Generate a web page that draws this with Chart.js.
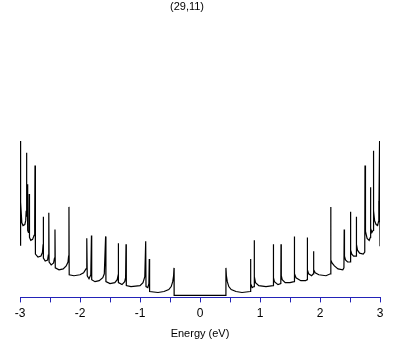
<!DOCTYPE html>
<html>
<head>
<meta charset="utf-8">
<script src="https://cdn.jsdelivr.net/npm/chart.js@4.4.1/dist/chart.umd.min.js"></script>
<style>
  html, body { margin: 0; padding: 0; background: #ffffff; }
  #wrap { position: relative; width: 409px; height: 345px; }
</style>
</head>
<body>
<div id="wrap"><canvas id="c" width="409" height="345"></canvas></div>
<script>
// Chart title
const chartTitle = "(29,11)";
const xAxisTitle = "Energy (eV)";
// Tick values of the energy axis
const xTickMin = -3;
const xTickMax = 3;
const xTickStep = 0.5;

// Density of states: energy (eV) and DOS (arbitrary units)
const energy = [
  -3.000, -2.995, -2.985, -2.970, -2.950, -2.920, -2.905, -2.897, -2.892, -2.889,
  -2.886, -2.879, -2.872, -2.860, -2.850, -2.846, -2.842, -2.820, -2.790, -2.765,
  -2.755, -2.750, -2.746, -2.740, -2.700, -2.650, -2.625, -2.615, -2.612, -2.608,
  -2.580, -2.540, -2.528, -2.520, -2.515, -2.480, -2.440, -2.425, -2.417, -2.412,
  -2.350, -2.280, -2.230, -2.200, -2.190, -2.184, -2.180, -2.100, -2.000, -1.940,
  -1.900, -1.890, -1.884, -1.879, -1.850, -1.820, -1.809, -1.805, -1.750, -1.680,
  -1.620, -1.595, -1.573, -1.568, -1.500, -1.420, -1.380, -1.366, -1.362, -1.357,
  -1.300, -1.255, -1.240, -1.233, -1.228, -1.150, -1.000, -0.950, -0.920, -0.905,
  -0.900, -0.870, -0.852, -0.845, -0.840, -0.700, -0.600, -0.520, -0.480, -0.455,
  -0.440, -0.433, -0.431,
  0.430, 0.432, 0.440, 0.455, 0.480, 0.520, 0.600, 0.700, 0.838, 0.842,
  0.847, 0.870, 0.900, 0.903, 0.908, 0.925, 0.980, 1.100, 1.218, 1.222,
  1.227, 1.240, 1.300, 1.347, 1.350, 1.355, 1.370, 1.420, 1.500, 1.568,
  1.572, 1.577, 1.600, 1.680, 1.760, 1.785, 1.788, 1.793, 1.810, 1.860,
  1.888, 1.892, 1.897, 1.920, 1.980, 2.100, 2.174, 2.178, 2.183, 2.200,
  2.240, 2.300, 2.380, 2.399, 2.403, 2.408, 2.425, 2.460, 2.504, 2.508,
  2.513, 2.530, 2.560, 2.601, 2.605, 2.610, 2.625, 2.660, 2.720, 2.746,
  2.750, 2.754, 2.762, 2.785, 2.820, 2.839, 2.842, 2.846, 2.865, 2.884,
  2.888, 2.892, 2.898, 2.910, 2.935, 2.960, 2.975, 2.978, 2.983, 2.993,
  3.000
];
const dos = [
  5.1, 15.7, 9.5, 7.4, 7.1, 7.2, 7.6, 8.6, 10.0, 14.5,
  8.0, 11.3, 6.6, 6.4, 6.8, 10.3, 5.9, 5.6, 5.7, 6.1,
  7.0, 13.2, 8.8, 4.2, 3.9, 4.0, 4.4, 5.2, 8.0, 3.8,
  3.5, 3.6, 4.1, 8.4, 3.4, 3.1, 3.3, 3.8, 6.7, 2.8,
  2.6, 2.7, 3.0, 3.4, 4.0, 9.0, 2.1, 2.0, 2.1, 2.3,
  2.7, 3.1, 5.8, 2.0, 1.7, 2.1, 6.1, 1.6, 1.4, 1.5,
  1.8, 2.2, 6.0, 1.4, 1.2, 1.3, 1.6, 2.0, 5.3, 1.3,
  1.1, 1.4, 1.8, 5.2, 1.0, 0.9, 1.0, 1.3, 1.9, 5.5,
  0.9, 0.8, 1.2, 3.7, 0.4, 0.3, 0.4, 0.6, 0.9, 1.4,
  2.0, 2.8, 0.0,
  0.0, 2.8, 2.0, 1.4, 0.9, 0.6, 0.4, 0.3, 0.4, 3.7,
  1.2, 0.8, 0.9, 5.6, 1.9, 1.3, 1.0, 0.9, 1.0, 5.2,
  1.8, 1.4, 1.1, 1.2, 5.2, 2.0, 1.6, 1.3, 1.3, 1.4,
  6.0, 2.2, 1.8, 1.5, 1.5, 1.6, 5.9, 2.6, 2.2, 2.0,
  2.2, 4.5, 2.6, 2.3, 2.1, 2.0, 2.2, 9.0, 3.6, 3.3,
  3.0, 2.7, 2.6, 2.8, 6.7, 4.0, 3.6, 3.4, 3.4, 8.5,
  4.6, 4.2, 4.0, 4.0, 8.0, 5.2, 4.6, 4.3, 4.2, 4.4,
  13.2, 8.5, 6.5, 5.8, 5.6, 5.9, 11.0, 6.8, 6.4, 6.6,
  14.7, 10.5, 8.6, 7.6, 7.2, 7.1, 7.5, 9.6, 7.8, 15.7,
  5.0
];

const points = energy.map((e, i) => ({ x: e, y: dos[i] }));
const axisBlue = '#2323b8';

const titlePlugin = {
  id: 'topTitle',
  afterDraw(chart) {
    const ctx = chart.ctx;
    ctx.save();
    ctx.font = '11px "Liberation Sans", Arial, sans-serif';
    ctx.fillStyle = '#000000';
    ctx.textAlign = 'center';
    ctx.textBaseline = 'middle';
    ctx.fillText(chartTitle, 187, 7);
    ctx.restore();
  }
};

new Chart(document.getElementById('c'), {
  type: 'line',
  data: {
    datasets: [{
      data: points,
      borderColor: '#000000',
      borderWidth: 1.2,
      pointRadius: 0,
      tension: 0,
      fill: false
    }]
  },
  options: {
    responsive: false,
    animation: false,
    layout: { padding: { left: 20, right: 29, top: 138, bottom: 0 } },
    plugins: {
      legend: { display: false },
      tooltip: { enabled: false },
      title: { display: false }
    },
    scales: {
      x: {
        type: 'linear',
        min: xTickMin,
        max: xTickMax,
        border: { display: true, color: axisBlue, width: 1 },
        grid: { drawOnChartArea: false, drawTicks: true, tickLength: 5, color: axisBlue, tickColor: axisBlue },
        ticks: {
          stepSize: xTickStep,
          padding: 4,
          color: '#000000',
          font: { family: '"Liberation Sans", Arial, sans-serif', size: 12 },
          maxRotation: 0,
          autoSkip: false,
          callback: (v) => Math.abs(v - Math.round(v)) < 1e-6 ? String(Math.round(v)) : ''
        },
        title: {
          display: true,
          text: xAxisTitle,
          color: '#000000',
          font: { family: '"Liberation Sans", Arial, sans-serif', size: 11 },
          padding: { top: 3, bottom: 4 }
        }
      },
      y: {
        display: false,
        min: -0.2,
        max: 16
      }
    }
  },
  plugins: [titlePlugin]
});
</script>
</body>
</html>
